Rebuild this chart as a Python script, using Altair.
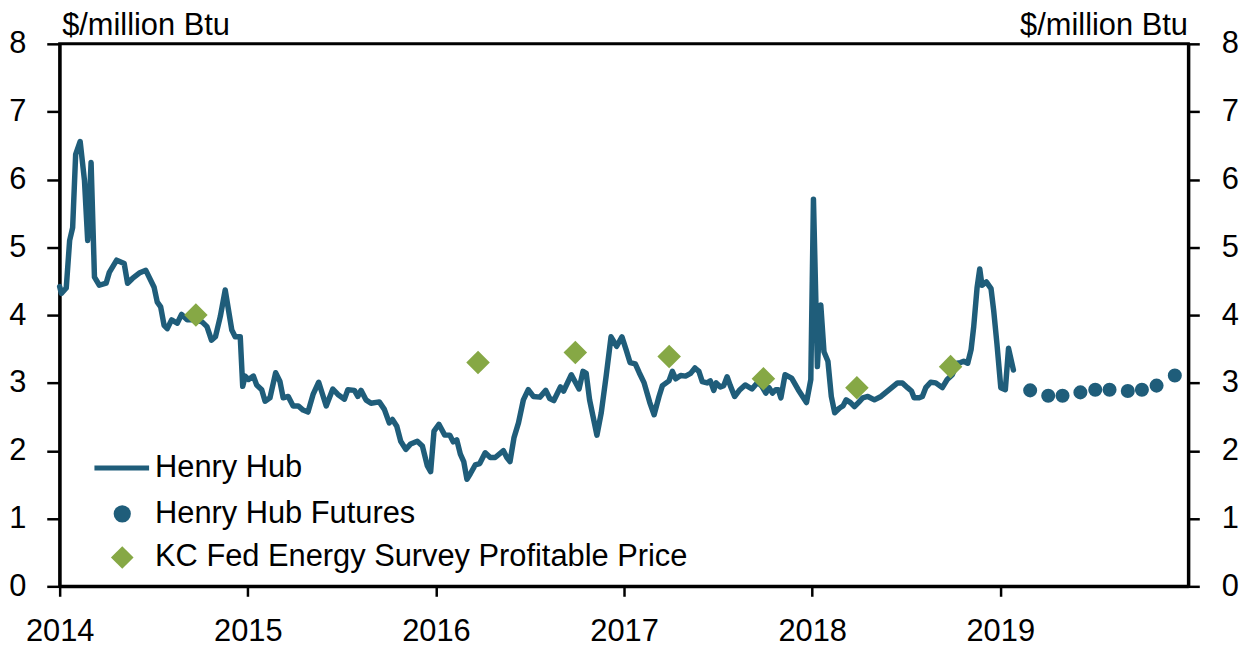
import altair as alt
import pandas as pd

# ---------------- data ----------------
hh_t = [2014.000, 2014.009, 2014.035, 2014.053, 2014.069, 2014.085, 2014.109, 2014.132, 2014.149, 2014.167,
        2014.185, 2014.211, 2014.247, 2014.264, 2014.303, 2014.343, 2014.361, 2014.387, 2014.423, 2014.458,
        2014.502, 2014.519, 2014.537, 2014.555, 2014.572, 2014.595, 2014.625, 2014.648, 2014.678, 2014.722,
        2014.757, 2014.783, 2014.807, 2014.828, 2014.854, 2014.880, 2014.915, 2014.933, 2014.960, 2014.973,
        2014.986, 2015.004, 2015.030, 2015.047, 2015.074, 2015.092, 2015.118, 2015.148, 2015.171, 2015.188,
        2015.215, 2015.241, 2015.268, 2015.294, 2015.320, 2015.347, 2015.377, 2015.417, 2015.452, 2015.479,
        2015.514, 2015.532, 2015.567, 2015.585, 2015.602, 2015.628, 2015.655, 2015.699, 2015.726, 2015.752,
        2015.769, 2015.792, 2015.813, 2015.840, 2015.866, 2015.901, 2015.928, 2015.954, 2015.972, 2015.990,
        2016.016, 2016.047, 2016.074, 2016.092, 2016.111, 2016.130, 2016.148, 2016.165, 2016.183, 2016.209,
        2016.233, 2016.262, 2016.289, 2016.315, 2016.359, 2016.377, 2016.394, 2016.415, 2016.439, 2016.465,
        2016.491, 2016.518, 2016.553, 2016.584, 2016.605, 2016.627, 2016.662, 2016.679, 2016.720, 2016.761,
        2016.782, 2016.799, 2016.817, 2016.835, 2016.856, 2016.879, 2016.905, 2016.931, 2016.961, 2016.989,
        2017.011, 2017.032, 2017.060, 2017.081, 2017.107, 2017.137, 2017.160, 2017.186, 2017.204, 2017.239,
        2017.257, 2017.275, 2017.301, 2017.327, 2017.354, 2017.377, 2017.398, 2017.416, 2017.442, 2017.459,
        2017.477, 2017.490, 2017.512, 2017.530, 2017.548, 2017.565, 2017.588, 2017.613, 2017.644, 2017.680,
        2017.711, 2017.733, 2017.754, 2017.771, 2017.789, 2017.807, 2017.820, 2017.834, 2017.856, 2017.891,
        2017.926, 2017.970, 2017.993, 2018.007, 2018.028, 2018.046, 2018.063, 2018.084, 2018.102, 2018.120,
        2018.146, 2018.164, 2018.181, 2018.204, 2018.225, 2018.246, 2018.269, 2018.296, 2018.331, 2018.366,
        2018.410, 2018.454, 2018.480, 2018.507, 2018.528, 2018.542, 2018.569, 2018.586, 2018.604, 2018.630,
        2018.657, 2018.692, 2018.718, 2018.745, 2018.771, 2018.789, 2018.806, 2018.827, 2018.845, 2018.859,
        2018.877, 2018.891, 2018.903, 2018.926, 2018.951, 2018.965, 2018.982, 2019.003, 2019.027, 2019.044,
        2019.070]
hh_v = [4.42, 4.32, 4.40, 5.10, 5.29, 6.37, 6.56, 5.98, 5.10, 6.25,
        4.56, 4.44, 4.47, 4.63, 4.81, 4.76, 4.47, 4.54, 4.62, 4.66,
        4.41, 4.19, 4.12, 3.85, 3.80, 3.93, 3.88, 4.01, 3.93, 3.93,
        3.90, 3.83, 3.63, 3.68, 3.98, 4.37, 3.78, 3.68, 3.68, 2.95,
        3.10, 3.05, 3.10, 2.97, 2.90, 2.73, 2.78, 3.15, 3.02, 2.78,
        2.80, 2.66, 2.66, 2.60, 2.57, 2.83, 3.01, 2.66, 2.91, 2.83,
        2.76, 2.90, 2.89, 2.80, 2.89, 2.75, 2.70, 2.72, 2.61, 2.41,
        2.46, 2.36, 2.14, 2.02, 2.10, 2.14, 2.07, 1.78, 1.69, 2.29,
        2.39, 2.23, 2.23, 2.13, 2.16, 1.95, 1.84, 1.58, 1.66, 1.79,
        1.81, 1.97, 1.90, 1.90, 2.00, 1.90, 1.84, 2.19, 2.41, 2.75,
        2.90, 2.80, 2.79, 2.89, 2.77, 2.74, 2.94, 2.88, 3.12, 2.91,
        3.17, 3.14, 2.75, 2.51, 2.23, 2.56, 3.10, 3.68, 3.54, 3.68,
        3.49, 3.30, 3.28, 3.15, 3.00, 2.71, 2.53, 2.80, 2.96, 3.03,
        3.17, 3.06, 3.11, 3.10, 3.14, 3.22, 3.17, 3.02, 3.00, 3.03,
        2.89, 3.00, 2.94, 2.96, 3.09, 2.96, 2.80, 2.89, 2.97, 2.91,
        3.01, 2.95, 2.85, 2.93, 2.85, 2.90, 2.90, 2.78, 3.12, 3.07,
        2.90, 2.71, 3.05, 5.71, 3.24, 4.15, 3.46, 3.32, 2.80, 2.56,
        2.63, 2.66, 2.75, 2.71, 2.65, 2.71, 2.78, 2.80, 2.75, 2.80,
        2.90, 3.00, 3.00, 2.93, 2.88, 2.78, 2.78, 2.80, 2.93, 3.01,
        3.00, 2.93, 3.05, 3.12, 3.29, 3.30, 3.32, 3.29, 3.49, 3.83,
        4.41, 4.68, 4.44, 4.49, 4.39, 4.07, 3.59, 2.93, 2.90, 3.51,
        3.19]

fut_t = [2019.159, 2019.255, 2019.331, 2019.426, 2019.505, 2019.581, 2019.678, 2019.753, 2019.831, 2019.928]
fut_v = [2.89, 2.81, 2.81, 2.86, 2.90, 2.90, 2.88, 2.90, 2.96, 3.11]

kc_t = [2014.724, 2016.224, 2016.741, 2017.240, 2017.741, 2018.238, 2018.736]
kc_v = [4.00, 3.30, 3.45, 3.39, 3.06, 2.93, 3.24]

series_names = ["Henry Hub", "Henry Hub Futures", "KC Fed Energy Survey Profitable Price"]
year_ticks = [2014, 2015, 2016, 2017, 2018, 2019]
y_ticks = [0, 1, 2, 3, 4, 5, 6, 7, 8]
unit_label = "$/million Btu"

# ---------------- styling ----------------
FONT = "Liberation Sans"
FS = 31
HH_COLOR = "#1F5D7A"
KC_COLOR = "#86A845"

df_hh = pd.DataFrame({"t": hh_t, "v": hh_v, "series": series_names[0]})
df_fut = pd.DataFrame({"t": fut_t, "v": fut_v, "series": series_names[1]})
df_kc = pd.DataFrame({"t": kc_t, "v": kc_v, "series": series_names[2]})

common_legend = dict(title=None, orient="none", direction="vertical",
                     labelFont=FONT, labelFontSize=FS, labelColor="black", labelLimit=900,
                     padding=0)

leg_hh = alt.Legend(legendX=32.5, legendY=397, symbolType="stroke", symbolSize=3025,
                    symbolStrokeWidth=5, symbolStrokeColor=HH_COLOR, labelOffset=3.5,
                    **common_legend)
leg_fut = alt.Legend(legendX=47.5, legendY=457.5, symbolType="circle", symbolSize=300,
                     symbolStrokeWidth=0, symbolFillColor=HH_COLOR, labelOffset=17.5,
                     **common_legend)
leg_kc = alt.Legend(legendX=47.5, legendY=501.5, symbolType="diamond", symbolSize=520,
                    symbolStrokeWidth=0, symbolFillColor=KC_COLOR, labelOffset=17.5,
                    **common_legend)

x_enc = alt.X("t:Q",
              scale=alt.Scale(domain=[2014, 2020], nice=False, zero=False),
              axis=alt.Axis(values=year_ticks, format="d", title=None, tickSize=10,
                            labelPadding=21, labelFlush=False, labelOverlap=False, grid=False))

y_scale = alt.Scale(domain=[0, 8], nice=False, zero=True)

left_axis = alt.Axis(orient="left", values=y_ticks, format="d", grid=False, tickSize=13,
                     labelPadding=21, labelFlush=False,
                     title=unit_label, titleAngle=0, titleAlign="left", titleBaseline="alphabetic",
                     titleX=2, titleY=-9)
right_axis = alt.Axis(orient="right", values=y_ticks, format="d", grid=False, tickSize=11,
                      labelPadding=22, labelFlush=False,
                      title=unit_label, titleAngle=0, titleAlign="right", titleBaseline="alphabetic",
                      titleX=-1, titleY=-9)

line = alt.Chart(df_hh).mark_line(strokeWidth=5.5, strokeJoin="round", strokeCap="round").encode(
    x=x_enc, y=alt.Y("v:Q", scale=y_scale, axis=left_axis),
    stroke=alt.Stroke("series:N", scale=alt.Scale(domain=[series_names[0]], range=[HH_COLOR]),
                      legend=leg_hh))

fut = alt.Chart(df_fut).mark_point(filled=True, size=200, opacity=1, shape="circle").encode(
    x=x_enc, y=alt.Y("v:Q", scale=y_scale, axis=None),
    fill=alt.Fill("series:N", scale=alt.Scale(domain=[series_names[1]], range=[HH_COLOR]),
                  legend=leg_fut))

kc = alt.Chart(df_kc).mark_point(filled=True, size=560, opacity=1, color=KC_COLOR).encode(
    x=x_enc, y=alt.Y("v:Q", scale=y_scale, axis=right_axis),
    shape=alt.Shape("series:N", scale=alt.Scale(domain=[series_names[2]], range=["diamond"]),
                    legend=leg_kc))

chart = alt.layer(line, fut, kc).resolve_scale(y="independent").properties(
    width=1136, height=546, autosize="none",
    padding={"left": 52, "top": 34, "right": 57, "bottom": 62},
).configure_view(stroke="black", strokeWidth=3).configure_axis(
    labelFont=FONT, labelFontSize=FS, labelColor="black",
    titleFont=FONT, titleFontSize=FS, titleColor="black", titleFontWeight="normal",
    domainColor="black", domainWidth=3, tickColor="black", tickWidth=2.5, grid=False,
)

chart.save("out.html", embed_options={"renderer": "svg", "actions": False})
